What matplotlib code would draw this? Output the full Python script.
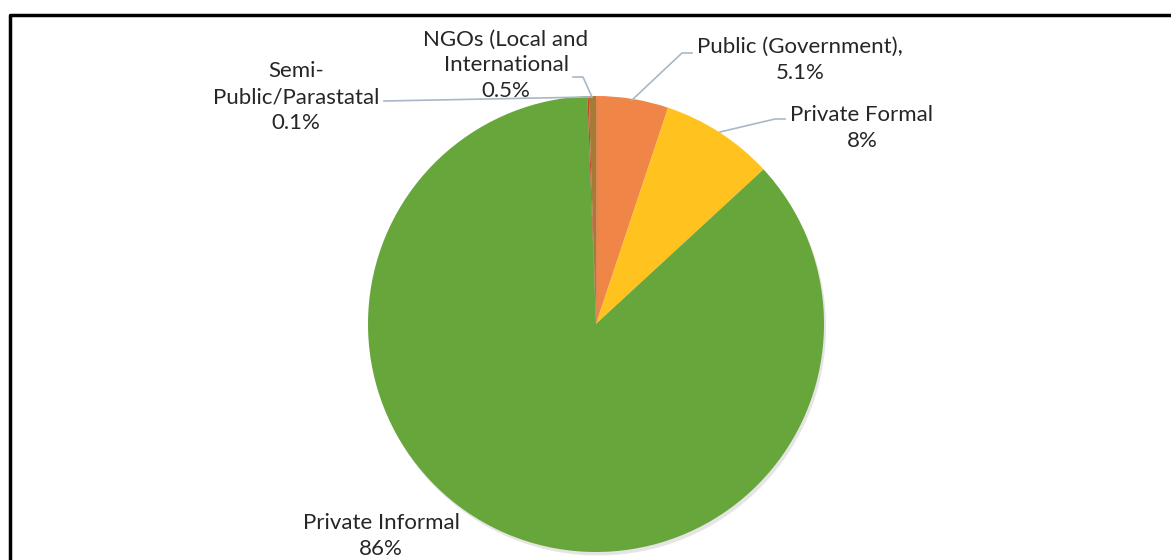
import matplotlib.pyplot as plt
import matplotlib.patheffects as pe

# slices in drawing order, clockwise from 12 o'clock
labels = ["Public (Government),\n5.1%", "Private Formal\n8%", "Private Informal\n86%",
          "Semi-\nPublic/Parastatal\n0.1%", "NGOs (Local and\nInternational\n0.5%"]
values = [5.1, 8, 86, 0.1, 0.5]
colors = ["#EF8546", "#FFC21F", "#66A63A", "#C7452A", "#A67C35"]

plt.rcParams['font.family'] = ['Lato', 'DejaVu Sans']

fig = plt.figure(figsize=(11.71, 5.6), dpi=100)
ax = fig.add_axes([0, 0, 1, 1])

wedges, _ = ax.pie(values, colors=colors, startangle=90, counterclock=False,
                   center=(596, 236), radius=228, frame=True,
                   wedgeprops=dict(linewidth=0))
for w in wedges:
    w.set_path_effects([pe.SimplePatchShadow(offset=(1.5, -2.5), shadow_rgbFace='#999999', alpha=0.25),
                        pe.Normal()])
ax.set_xlim(0, 1171)
ax.set_ylim(0, 560)
ax.set_aspect('equal')
ax.axis('off')

# label text position and leader line (x, y in pixels from top)
label_pos = [(800, 60), (862, 128), (381, 536), (296, 97), (506, 65)]
leaders = [
    [(632, 100), (682, 53), (692, 53)],
    [(720, 132), (775, 119), (785, 119)],
    None,
    [(590, 97), (384, 101)],
    [(592, 97), (583, 77), (573, 77)],
]
line_col = "#A9B7C6"
for lab, (tx, ty), ld in zip(labels, label_pos, leaders):
    ax.text(tx, 560 - ty, lab, ha='center', va='center', fontsize=16,
            color='#262626', linespacing=1.35)
    if ld:
        xs = [p[0] for p in ld]
        ys = [560 - p[1] for p in ld]
        ax.plot(xs, ys, color=line_col, lw=1.2, zorder=3)

# chart frame (only top and left edges are visible)
ax.plot([10, 10, 1171], [0, 545, 545], color='black', lw=2.5, solid_capstyle='butt',
        clip_on=False)

fig.savefig("out.png", dpi=100)
